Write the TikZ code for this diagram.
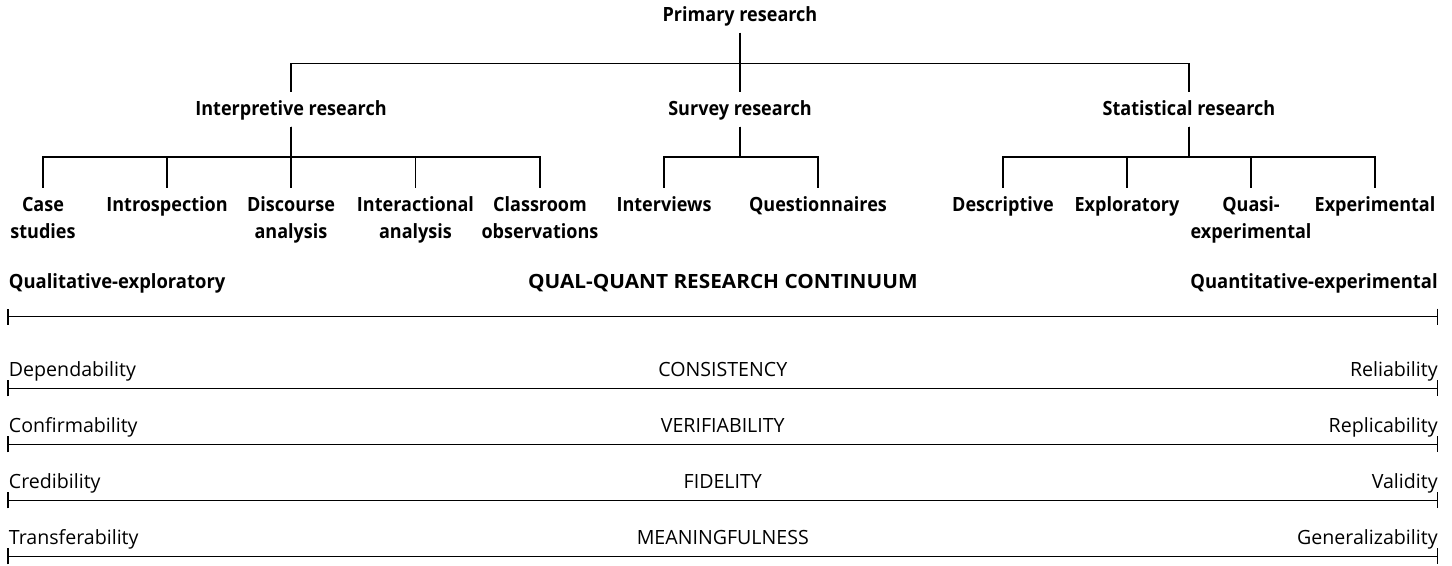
\documentclass[tikz,border=0pt]{standalone}
\usepackage{fontspec}
\setmainfont{Open Sans}
\newfontfamily\treefont[FakeStretch=0.92]{Open Sans}
\newfontfamily\headfont[FakeStretch=0.94]{Open Sans}
\newfontfamily\capsfont[FakeStretch=1.06]{Open Sans}
\usepackage{tikz}
\usetikzlibrary{positioning,arrows.meta}
\tikzset{main node/.style={font=\treefont\bfseries\fontsize{9.8}{13.5}\selectfont,align=center,inner xsep=0pt,inner ysep=4.2pt,anchor=north},
head node/.style={main node,inner ysep=3.9pt,text height=7.6pt,text depth=1.5pt,anchor=base},
bus/.style={to path={-- ++(0,30.4) -| (\tikztotarget)}},
scale line/.style={line width=0.65pt,{Bar[width=8pt,line width=0.65pt]}-{Bar[width=8pt,line width=0.65pt]}},
end label/.style={inner sep=0pt,font=\fontsize{9.8}{12}\selectfont,yshift=6pt},
head label/.style={end label,font=\headfont\bfseries\fontsize{9.8}{12}\selectfont,yshift=8pt},}

\begin{document}
\begin{tikzpicture}[x=0.5pt,y=-0.5pt]
    \useasboundingbox (0,0) rectangle (1452,566);
    \node[head node] (1) at (740,21.7) {Primary research};
    \node[head node] (2) at (291,115.5) {Interpretive research};
    \node[head node] (3) at (740,115.5) {Survey research};
    \node[head node] (4) at (1189,115.5) {Statistical research};
    \node[main node] (5) at (43,188.3) {Case\\studies};
    \node[main node] (6) at (167,188.3) {Introspection};
    \node[main node] (7) at (291,188.3) {Discourse\\analysis};
    \node[main node] (8) at (415.5,188.3) {Interactional\\analysis};
    \node[main node] (9) at (540,188.3) {Classroom\\observations};
    \node[main node] (10) at (664,188.3) {Interviews};
    \node[main node] (11) at (818,188.3) {Questionnaires};
    \node[main node] (12) at (1003,188.3) {Descriptive};
    \node[main node] (13) at (1127,188.3) {Exploratory};
    \node[main node] (14) at (1251,188.3) {Quasi-\\experimental};
    \node[main node] (15) at (1375,188.3) {Experimental};

    \path[draw,line width=0.65pt]
    (1.south) edge[bus] (2.north)
    (1.south) edge[bus] (3.north)
    (1.south) edge[bus] (4.north)
    (2.south) edge[bus] (5.north)
    (2.south) edge[bus] (6.north)
    (2.south) edge[bus] (7.north)
    (2.south) edge[bus] (8.north)
    (2.south) edge[bus] (9.north)
    (3.south) edge[bus] (10.north)
    (3.south) edge[bus] (11.north)
    (4.south) edge[bus] (12.north)
    (4.south) edge[bus] (13.north)
    (4.south) edge[bus] (14.north)
    (4.south) edge[bus] (15.north)
    ;

    % qual-quant continuum
    \coordinate (l0) at (7.3,316.7);
    \coordinate (r0) at (1438.3,316.7);
    \coordinate (l1) at (7.3,388.3);
    \coordinate (r1) at (1438.3,388.3);
    \coordinate (l2) at (7.3,444.3);
    \coordinate (r2) at (1438.3,444.3);
    \coordinate (l3) at (7.3,500.3);
    \coordinate (r3) at (1438.3,500.3);
    \coordinate (l4) at (7.3,556.3);
    \coordinate (r4) at (1438.3,556.3);

    \draw[scale line] (l0) --
      node[head label,pos=0,anchor=base west,xshift=0.5pt] (qual) {Qualitative-exploratory}
      node[head label,anchor=base,font=\capsfont\bfseries\fontsize{9.8}{12}\selectfont] (cont) {QUAL-QUANT RESEARCH CONTINUUM}
      node[head label,pos=1,anchor=base east] (quant) {Quantitative-experimental} (r0);
    \draw[scale line] (l1) --
      node[end label,pos=0,anchor=base west,xshift=0.5pt] (dep) {Dependability}
      node[end label,anchor=base] (cons) {CONSISTENCY}
      node[end label,pos=1,anchor=base east] (rel) {Reliability} (r1);
    \draw[scale line] (l2) --
      node[end label,pos=0,anchor=base west,xshift=0.5pt] (conf) {Confirmability}
      node[end label,anchor=base] (ver) {VERIFIABILITY}
      node[end label,pos=1,anchor=base east] (rep) {Replicability} (r2);
    \draw[scale line] (l3) --
      node[end label,pos=0,anchor=base west,xshift=0.5pt] (cred) {Credibility}
      node[end label,anchor=base] (fid) {FIDELITY}
      node[end label,pos=1,anchor=base east] (val) {Validity} (r3);
    \draw[scale line] (l4) --
      node[end label,pos=0,anchor=base west,xshift=0.5pt] (trans) {Transferability}
      node[end label,anchor=base] (mean) {MEANINGFULNESS}
      node[end label,pos=1,anchor=base east] (gen) {Generalizability} (r4);
\end{tikzpicture}
\end{document}
